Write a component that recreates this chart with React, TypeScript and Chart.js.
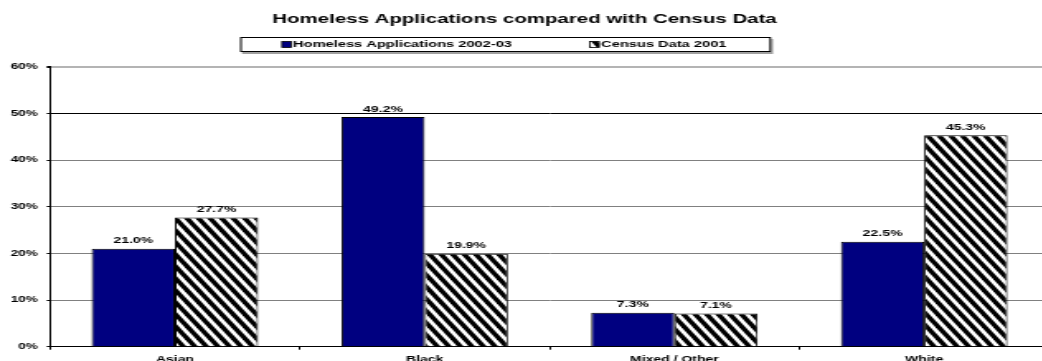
import { useEffect, useRef } from "react";
import { Chart, registerables } from "chart.js";

Chart.register(...registerables);

const titleText = "Homeless Applications compared with Census Data";
const categories = ["Asian", "Black", "Mixed / Other", "White"];
const seriesNames = ["Homeless Applications 2002-03", "Census Data 2001"];
const homelessApplications = [21.0, 49.2, 7.3, 22.5];
const censusData = [27.7, 19.9, 7.1, 45.3];
const yTicks = [0, 10, 20, 30, 40, 50, 60];

const FONT = "'Liberation Sans', Arial, Helvetica, sans-serif";
// The drawing is made on a narrow canvas and widened with CSS,
// which gives the broad, stretched lettering of the original chart.
const STRETCH = 1.65;
const W = 640;
const H = 370;
const NAVY = "#000080";

function makeHatch(ctx: CanvasRenderingContext2D): CanvasPattern {
  const tw = 7;
  const th = 12;
  const tile = document.createElement("canvas");
  tile.width = tw;
  tile.height = th;
  const c = tile.getContext("2d")!;
  c.fillStyle = "#fff";
  c.fillRect(0, 0, tw, th);
  c.strokeStyle = "#000";
  c.lineWidth = ((tw * th) / Math.hypot(tw, th)) * 0.55;
  for (let k = -2; k <= 2; k++) {
    c.beginPath();
    c.moveTo(k * tw - tw, -th);
    c.lineTo(k * tw + 2 * tw, 2 * th);
    c.stroke();
  }
  return ctx.createPattern(tile, "repeat")!;
}

export default function App() {
  const canvasRef = useRef<HTMLCanvasElement | null>(null);

  useEffect(() => {
    const canvas = canvasRef.current;
    if (!canvas) return;
    const ctx2d = canvas.getContext("2d")!;
    const hatch = makeHatch(ctx2d);

    const valueLabels = {
      id: "valueLabels",
      afterDatasetsDraw(chart: any) {
        const ctx = chart.ctx as CanvasRenderingContext2D;
        ctx.save();
        ctx.font = `bold 8.5px ${FONT}`;
        ctx.fillStyle = "#000";
        ctx.textAlign = "center";
        ctx.textBaseline = "alphabetic";
        chart.data.datasets.forEach((ds: any, i: number) => {
          chart.getDatasetMeta(i).data.forEach((bar: any, j: number) => {
            const v = ds.data[j] as number;
            ctx.fillText(v.toFixed(1) + "%", bar.x, bar.y - 5.5);
          });
        });
        ctx.restore();
      },
    };

    const boxedLegend = {
      id: "boxedLegend",
      afterDraw(chart: any) {
        const ctx = chart.ctx as CanvasRenderingContext2D;
        const left = 145.5;
        const right = 467.3;
        const top = 37;
        const bottom = 52;
        const midY = (top + bottom) / 2;
        const swW = 5.5;
        const swH = 6;
        ctx.save();
        // drop shadow and frame
        ctx.fillStyle = "#a0a0a0";
        ctx.fillRect(left + 1.2, top + 2, right - left, bottom - top);
        ctx.fillStyle = "#fff";
        ctx.fillRect(left, top, right - left, bottom - top);
        ctx.strokeStyle = "#000";
        ctx.lineWidth = 1;
        ctx.strokeRect(left + 0.5, top + 0.5, right - left - 1, bottom - top - 1);

        ctx.font = `bold 8.9px ${FONT}`;
        ctx.textBaseline = "middle";
        ctx.textAlign = "left";
        const fills: (string | CanvasPattern)[] = [NAVY, hatch];
        let x = 170.9;
        seriesNames.forEach((name, i) => {
          ctx.fillStyle = fills[i];
          ctx.fillRect(x, midY - swH / 2, swW, swH);
          ctx.strokeStyle = "#000";
          ctx.lineWidth = 0.8;
          ctx.strokeRect(x, midY - swH / 2, swW, swH);
          const tx = x + swW + 1.2;
          ctx.fillStyle = "#000";
          ctx.fillText(name, tx, midY + 0.5);
          x = tx + ctx.measureText(name).width + 47.3;
        });
        ctx.restore();
      },
    };

    const chart = new Chart(canvas, {
      type: "bar",
      data: {
        labels: categories,
        datasets: [
          {
            label: seriesNames[0],
            data: homelessApplications,
            backgroundColor: NAVY,
            borderColor: "#000",
            borderWidth: 1,
            categoryPercentage: 2 / 3,
            barPercentage: 1,
          },
          {
            label: seriesNames[1],
            data: censusData,
            backgroundColor: hatch as any,
            borderColor: "#000",
            borderWidth: 1,
            categoryPercentage: 2 / 3,
            barPercentage: 1,
          },
        ],
      },
      options: {
        animation: false,
        responsive: false,
        devicePixelRatio: 1,
        layout: { padding: { left: 0, right: 4.2, top: 0, bottom: 0 } },
        plugins: {
          legend: { display: false },
          tooltip: { enabled: false },
          title: {
            display: true,
            text: titleText,
            color: "#000",
            font: { family: FONT, size: 12.4, weight: "bold" },
            padding: { top: 12.4, bottom: 39.4 },
          },
        },
        scales: {
          x: {
            grid: {
              drawOnChartArea: false,
              drawTicks: true,
              tickLength: 3,
              tickColor: "#000",
              offset: true,
            },
            border: { color: "#000", width: 1 },
            ticks: {
              color: "#000",
              font: { family: FONT, size: 8.5, weight: "bold" },
              padding: 4.8,
              maxRotation: 0,
              autoSkip: false,
            },
            afterFit: (s: any) => {
              s.height = H - 346.7;
            },
          },
          y: {
            min: 0,
            max: 60,
            afterBuildTicks: (s: any) => {
              s.ticks = yTicks.map((v) => ({ value: v }));
            },
            ticks: {
              color: "#000",
              font: { family: FONT, size: 8.3, weight: "bold" },
              padding: 5.3,
              callback: (v: any) => v + "%",
            },
            grid: {
              color: (c: any) => {
                const v = c.tick ? c.tick.value : 0;
                if (v === 60) return "#b4b4b4";
                if (v === 50 || v === 0) return "#000";
                return "#808080";
              },
              lineWidth: (c: any) => (c.tick && c.tick.value === 60 ? 2 : 1),
              tickColor: "#000",
              tickLength: 2,
            },
            border: { color: "#000", width: 1 },
            afterFit: (s: any) => {
              s.width = 30.3;
            },
          },
        },
      },
      plugins: [valueLabels, boxedLegend],
    });

    return () => chart.destroy();
  }, []);

  return (
    <div
      style={{
        position: "absolute",
        left: 0,
        top: 0,
        width: "1042px",
        height: "361px",
        overflow: "hidden",
        background: "#fff",
      }}
    >
      <canvas
        ref={canvasRef}
        width={W}
        height={H}
        style={{ display: "block", width: `${W * STRETCH}px`, height: `${H}px` }}
      />
    </div>
  );
}
